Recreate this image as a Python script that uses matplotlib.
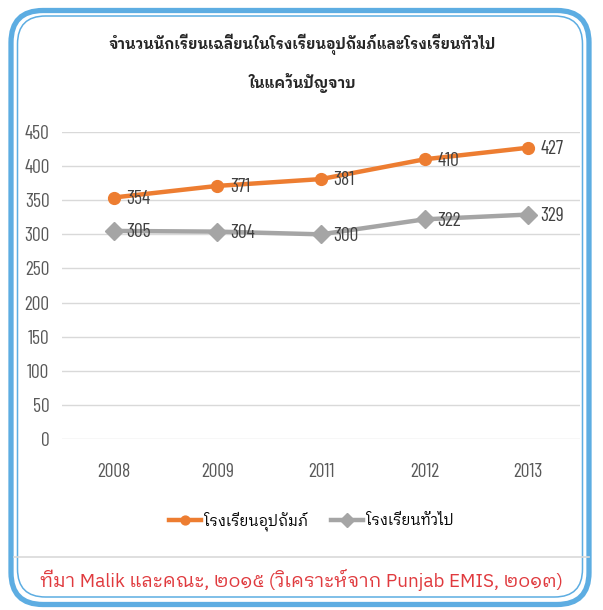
import os
import matplotlib
matplotlib.use('Agg')
import matplotlib.pyplot as plt
from matplotlib import font_manager
from matplotlib.ft2font import FT2Font
from matplotlib.font_manager import FontProperties
from matplotlib.patches import FancyBboxPatch

# ข้อมูล
years = ['2008', '2009', '2011', '2012', '2013']
sponsored = [354, 371, 381, 410, 427]
general = [305, 304, 300, 322, 329]
yticks = [0, 50, 100, 150, 200, 250, 300, 350, 400, 450]
title = 'จำนวนนักเรียนเฉลี่ยนในโรงเรียนอุปถัมภ์และโรงเรียนทั่วไป\nในแคว้นปัญจาบ'
name_sponsored = 'โรงเรียนอุปถัมภ์'
name_general = 'โรงเรียนทั่วไป'
source = 'ที่มา Malik และคณะ, ๒๐๑๕ (วิเคราะห์จาก Punjab EMIS, ๒๐๑๓)'


# หาฟอนต์ไทยแบบ condensed (ถ้ามี)
def find_thai(weight):
    best = None
    for f in font_manager.fontManager.ttflist:
        b = os.path.basename(f.fname)
        if 'Condensed' not in b or 'Extra' in b or 'Semi' in b or 'Italic' in b:
            continue
        if f.weight != weight:
            continue
        try:
            if 0x0E01 not in FT2Font(f.fname).get_charmap():
                continue
        except Exception:
            continue
        score = 0 if 'Looped' in b else 1
        if best is None or score < best[0]:
            best = (score, f.fname)
    return best[1] if best else None


p_reg = find_thai(400)
p_bold = find_thai(700)
if p_reg:
    fp_leg = FontProperties(fname=p_reg, size=11)
else:
    fp_leg = FontProperties(family=['IBM Plex Sans Thai Looped', 'DejaVu Sans'], size=10.5)
if p_bold:
    fp_title = FontProperties(fname=p_bold, size=11.5)
else:
    fp_title = FontProperties(family=['IBM Plex Sans Thai Looped', 'DejaVu Sans'], weight='bold', size=10.5)
fp_src = FontProperties(family=['IBM Plex Sans Thai Looped', 'DejaVu Sans'], size=13.6)
num_fam = ['Barlow Condensed', 'DejaVu Sans']

fig = plt.figure(figsize=(6.03, 6.10), dpi=100)

# กรอบพื้นหลัง
bg = fig.add_axes([0, 0, 1, 1], zorder=0)
bg.set_xlim(0, 603)
bg.set_ylim(610, 0)
bg.axis('off')
blue = '#5DADE2'
bg.add_patch(FancyBboxPatch((11, 10.5), 578, 594, boxstyle='round,pad=0,rounding_size=32',
                            fill=False, ec=blue, lw=3.8))
bg.add_patch(FancyBboxPatch((17.5, 16), 565, 581, boxstyle='round,pad=0,rounding_size=28',
                            fill=False, ec=blue, lw=1.1))
bg.plot([14, 589], [557, 557], color='#D9D9D9', lw=1.2)
bg.text(302, 580, source, ha='center', va='center', color='#E03A3E', fontproperties=fp_src)
bg.text(302, 63, title, ha='center', va='center', color='#262626',
        fontproperties=fp_title, linespacing=2.2)

ax = fig.add_axes([0.1028, 0.2803, 0.859, 0.5033], zorder=1)
ax.patch.set_alpha(0)
x = list(range(len(years)))
ax.plot(x, sponsored, color='#ED7D31', lw=3.2, marker='o', ms=8.5, label=name_sponsored, clip_on=False)
ax.plot(x, general, color='#A5A5A5', lw=3.2, marker='D', ms=9, label=name_general, clip_on=False)
for i in x:
    ax.annotate(str(sponsored[i]), (i, sponsored[i]), xytext=(9, -1), textcoords='offset points',
                va='center', ha='left', fontsize=14, color='#404040', family=num_fam)
    ax.annotate(str(general[i]), (i, general[i]), xytext=(9, -1), textcoords='offset points',
                va='center', ha='left', fontsize=14, color='#404040', family=num_fam)

ax.set_xlim(-0.5, 4.5)
ax.set_ylim(0, 450)
ax.set_yticks(yticks)
ax.set_xticks(x)
ax.set_xticklabels(years)
ax.grid(axis='y', color='#D9D9D9', lw=1)
ax.set_axisbelow(True)
for s in ax.spines.values():
    s.set_visible(False)
ax.tick_params(length=0, labelsize=14, labelcolor='#595959')
ax.tick_params(axis='y', pad=9)
ax.tick_params(axis='x', pad=17)
for lab in ax.get_xticklabels() + ax.get_yticklabels():
    lab.set_family(num_fam)

fig.legend(loc='center', bbox_to_anchor=(0.516, 0.146), ncol=2, frameon=False,
           prop=fp_leg, handlelength=2.2, columnspacing=1.6, handletextpad=0.2,
           markerscale=0.75)

fig.savefig('out.png', dpi=100)
